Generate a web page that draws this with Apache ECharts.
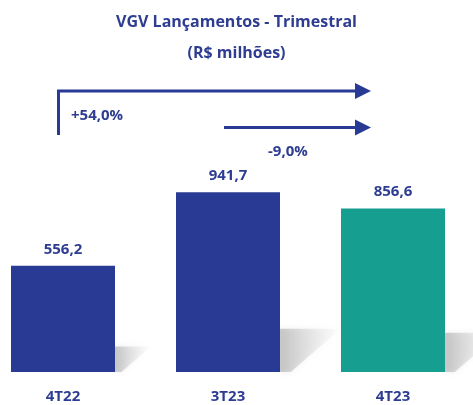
<!DOCTYPE html>
<html>
<head>
<meta charset="utf-8">
<script src="https://cdn.jsdelivr.net/npm/echarts@6/dist/echarts.min.js"></script>
<style>
html,body{margin:0;padding:0;background:#fff;}
#main{width:473px;height:405px;}
</style>
</head>
<body>
<div id="main"></div>
<script>
var categories = ['4T22', '3T23', '4T23'];
var values = [556.2, 941.7, 856.6];
var barColors = ['#283a94', '#283a94', '#169e91'];
var changeLabels = ['+54,0%', '-9,0%'];

var textColor = '#2e3d92';
var fontName = 'Open Sans';

var myChart = echarts.init(document.getElementById('main'));

//把数值格式化成逗号小数
function fmt(v) {
	return v.toFixed(1).replace('.', ',');
}

//柱子右侧的阴影
function renderShadow(params, api) {
	var i = api.value(0);
	var top = api.coord([i, api.value(1)]);
	var base = api.coord([i, 0]);
	var h = (base[1] - top[1]) * 0.24;
	var right = top[0] + 52;
	return {
		type: 'polygon',
		shape: {
			points: [[right, base[1]], [right, base[1] - h], [right + h * 1.4, base[1] - h], [right + h * 0.25, base[1]]]
		},
		style: {
			fill: new echarts.graphic.LinearGradient(0, 0, 1, 0, [
				{offset: 0, color: 'rgba(130,130,130,0.4)'},
				{offset: 1, color: 'rgba(200,200,200,0.03)'}
			]),
			shadowBlur: 6,
			shadowColor: 'rgba(160,160,160,0.5)'
		}
	};
}

var option = {
	animation: false,
	title: {
		text: 'VGV Lançamentos - Trimestral\n(R$ milhões)',
		left: 'center',
		top: 2,
		textStyle: {
			color: textColor,
			fontFamily: fontName,
			fontWeight: 'bold',
			fontSize: 16,
			lineHeight: 31
		}
	},
	grid: {
		left: -19.5,
		right: -2.5,
		top: 181,
		bottom: 33,
		outerBoundsMode: 'none'
	},
	xAxis: {
		type: 'category',
		data: categories,
		axisLine: {show: false},
		axisTick: {show: false},
		axisLabel: {
			margin: 17,
			color: textColor,
			fontFamily: fontName,
			fontWeight: 'bold',
			fontSize: 15
		}
	},
	yAxis: {
		type: 'value',
		min: 0,
		max: 1000,
		show: false,
		splitLine: {show: false}
	},
	graphic: [
		{
			type: 'polyline',
			shape: {points: [[58.5, 135], [58.5, 91], [356, 91]]},
			style: {stroke: '#283a94', lineWidth: 3, fill: null}
		},
		{
			type: 'polygon',
			shape: {points: [[355, 83], [371, 91], [355, 99]]},
			style: {fill: '#283a94'}
		},
		{
			type: 'line',
			shape: {x1: 224, y1: 127.5, x2: 356, y2: 127.5},
			style: {stroke: '#283a94', lineWidth: 3}
		},
		{
			type: 'polygon',
			shape: {points: [[355, 119.5], [371, 127.5], [355, 135.5]]},
			style: {fill: '#283a94'}
		},
		{
			type: 'text',
			left: 71,
			top: 108,
			style: {text: changeLabels[0], fill: textColor, font: 'bold 15px "Open Sans"'}
		},
		{
			type: 'text',
			left: 268,
			top: 144,
			style: {text: changeLabels[1], fill: textColor, font: 'bold 15px "Open Sans"'}
		}
	],
	series: [
		{
			type: 'custom',
			renderItem: renderShadow,
			data: values.map(function (v, i) { return [i, v]; }),
			z: 1,
			silent: true
		},
		{
			type: 'bar',
			barWidth: 104,
			z: 2,
			data: values.map(function (v, i) {
				return {value: v, itemStyle: {color: barColors[i]}};
			}),
			label: {
				show: true,
				position: 'top',
				distance: 9,
				color: textColor,
				fontFamily: fontName,
				fontWeight: 'bold',
				fontSize: 15,
				formatter: function (p) { return fmt(p.value); }
			}
		}
	]
};
myChart.setOption(option);
</script>
</body>
</html>
